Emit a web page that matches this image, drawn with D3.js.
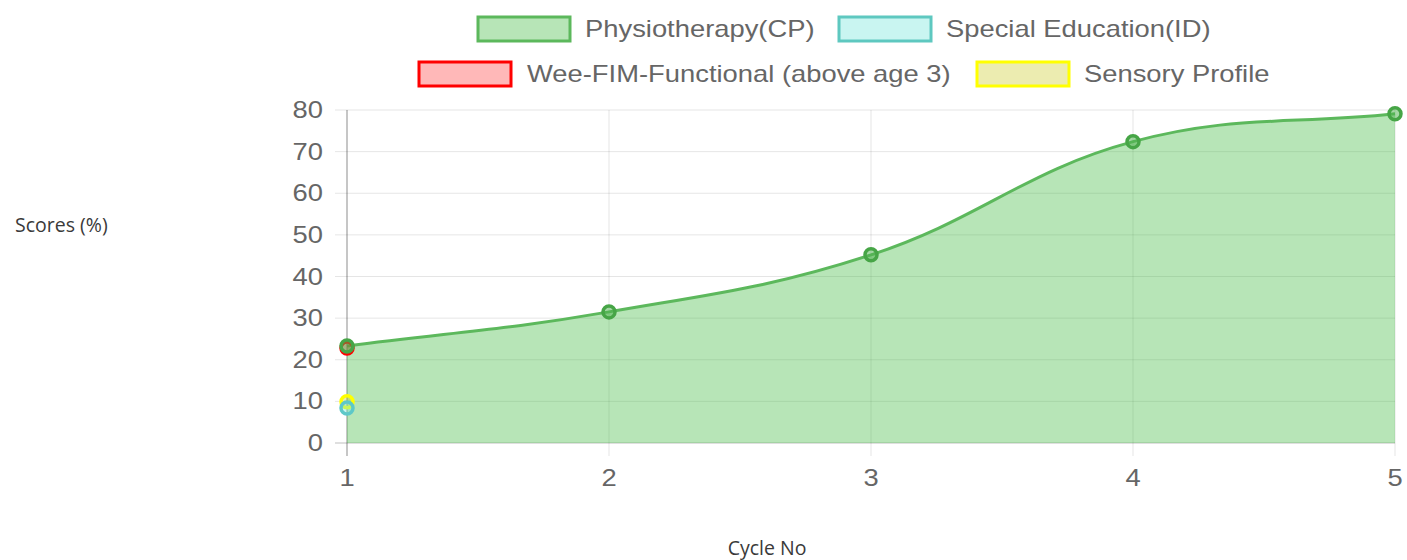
<!DOCTYPE html>
<html>
<head>
<meta charset="utf-8">
<script src="https://cdn.jsdelivr.net/npm/d3@7"></script>
<style>
html,body{margin:0;padding:0;background:#fff;}
svg{display:block;}
</style>
</head>
<body>
<svg id="chart" width="1407" height="560"></svg>
<script>
// ---- data ----
const cycles = [1, 2, 3, 4, 5];
const yTicks = [0, 10, 20, 30, 40, 50, 60, 70, 80];
const seriesNames = ["Physiotherapy(CP)", "Special Education(ID)", "Wee-FIM-Functional (above age 3)", "Sensory Profile"];
const physiotherapy = [23.3, 31.5, 45.2, 72.4, 79.1];
const specialEducation = [8.4];
const weeFim = [22.8];
const sensoryProfile = [9.9];
const yAxisTitle = "Scores (%)";
const xAxisTitle = "Cycle No";

// ---- styles ----
const styles = [
  {stroke: "#5cb85c", fill: "rgba(76,190,76,0.4)", point: "rgb(70,165,70)", pfill: "rgba(76,175,76,0.5)"},
  {stroke: "#5ec8c0", fill: "rgba(120,230,220,0.4)", point: "#5ec8c8", pfill: "rgba(120,230,220,0.4)"},
  {stroke: "#ff0000", fill: "rgba(255,0,0,0.28)", point: "#ff0000", pfill: "rgba(255,0,0,0.28)"},
  {stroke: "#ffff00", fill: "rgba(200,200,30,0.35)", point: "#ffff00", pfill: "rgba(200,200,30,0.35)"}
];
const data = [physiotherapy, specialEducation, weeFim, sensoryProfile];

const SX = 1.19; // horizontal stretch of chart text
const svg = d3.select("#chart");
const x = d3.scaleLinear().domain([1, 5]).range([347, 1395]);
const y = d3.scaleLinear().domain([0, 80]).range([443, 110]);

// grid
const grid = svg.append("g");
grid.selectAll("line.h").data(yTicks).join("line")
  .attr("x1", 335).attr("x2", 1395)
  .attr("y1", d => y(d)).attr("y2", d => y(d))
  .attr("stroke", d => d === 0 ? "rgba(0,0,0,0.25)" : "rgba(0,0,0,0.1)").attr("stroke-width", 1);
grid.selectAll("line.v").data(cycles).join("line")
  .attr("x1", d => x(d)).attr("x2", d => x(d))
  .attr("y1", 110).attr("y2", 456)
  .attr("stroke", d => d === 1 ? "rgba(0,0,0,0.3)" : "rgba(0,0,0,0.1)").attr("stroke-width", d => d === 1 ? 1.5 : 1);

function stretchedText(g, tx, ty, str, anchor, size, color) {
  return g.append("text")
    .attr("transform", `translate(${tx},${ty}) scale(${SX},1)`)
    .attr("text-anchor", anchor)
    .attr("font-family", "'Liberation Sans', Arial, Helvetica, sans-serif")
    .attr("font-size", size)
    .attr("fill", color)
    .text(str);
}

// y tick labels
const yl = svg.append("g");
yTicks.forEach(t => stretchedText(yl, 323, y(t) + 8, String(t), "end", 23, "#666"));
// x tick labels
const xl = svg.append("g");
cycles.forEach(c => stretchedText(xl, x(c), 486, String(c), "middle", 23, "#666"));

// Chart.js-like spline path
function splinePath(pts) {
  const t = 0.4;
  const cps = pts.map((p, i) => {
    const prev = pts[i - 1] || p, next = pts[i + 1] || p;
    const d01 = Math.hypot(p[0] - prev[0], p[1] - prev[1]);
    const d12 = Math.hypot(next[0] - p[0], next[1] - p[1]);
    let s01 = d01 / (d01 + d12 || 1), s12 = d12 / (d01 + d12 || 1);
    const fa = t * s01, fb = t * s12;
    return {
      prev: [p[0] - fa * (next[0] - prev[0]), p[1] - fa * (next[1] - prev[1])],
      next: [p[0] + fb * (next[0] - prev[0]), p[1] + fb * (next[1] - prev[1])]
    };
  });
  const path = d3.path();
  path.moveTo(pts[0][0], pts[0][1]);
  for (let i = 1; i < pts.length; i++) {
    const c1 = cps[i - 1].next, c2 = cps[i].prev;
    path.bezierCurveTo(c1[0], c1[1], c2[0], c2[1], pts[i][0], pts[i][1]);
  }
  return path.toString();
}

const plot = svg.append("g");
// physiotherapy area + line
const pPts = physiotherapy.map((v, i) => [x(cycles[i]), y(v)]);
const linePath = splinePath(pPts);
plot.append("path")
  .attr("d", linePath + `L${x(cycles[cycles.length - 1])},${y(0)}L${x(cycles[0])},${y(0)}Z`)
  .attr("fill", styles[0].fill).attr("stroke", "none");
plot.append("path").attr("d", linePath).attr("fill", "none")
  .attr("stroke", styles[0].stroke).attr("stroke-width", 3);

// points (draw last dataset first)
for (let s = data.length - 1; s >= 0; s--) {
  plot.selectAll(null).data(data[s]).join("circle")
    .attr("cx", (d, i) => x(cycles[i])).attr("cy", d => y(d)).attr("r", 6)
    .attr("fill", styles[s].pfill).attr("stroke", styles[s].point).attr("stroke-width", 3.5);
}

// legend
const legendPos = [
  {bx: 478, by: 17, tx: 585, ty: 37},
  {bx: 839, by: 17, tx: 946, ty: 37},
  {bx: 419, by: 62, tx: 527, ty: 82},
  {bx: 977, by: 62, tx: 1084, ty: 82}
];
const lg = svg.append("g");
seriesNames.forEach((n, i) => {
  const p = legendPos[i];
  lg.append("rect").attr("x", p.bx).attr("y", p.by).attr("width", 92).attr("height", 24)
    .attr("fill", styles[i].fill).attr("stroke", styles[i].stroke).attr("stroke-width", 3);
  stretchedText(lg, p.tx, p.ty, n, "start", 23, "#666");
});

// axis titles
svg.append("text").attr("x", 15).attr("y", 232)
  .attr("font-family", "'Open Sans', 'Noto Sans', sans-serif").attr("font-size", 19.5)
  .attr("fill", "#3a3a3a").text(yAxisTitle);
svg.append("text").attr("x", 767).attr("y", 555).attr("text-anchor", "middle")
  .attr("font-family", "'Open Sans', 'Noto Sans', sans-serif").attr("font-size", 19.5)
  .attr("fill", "#3a3a3a").text(xAxisTitle);
</script>
</body>
</html>
